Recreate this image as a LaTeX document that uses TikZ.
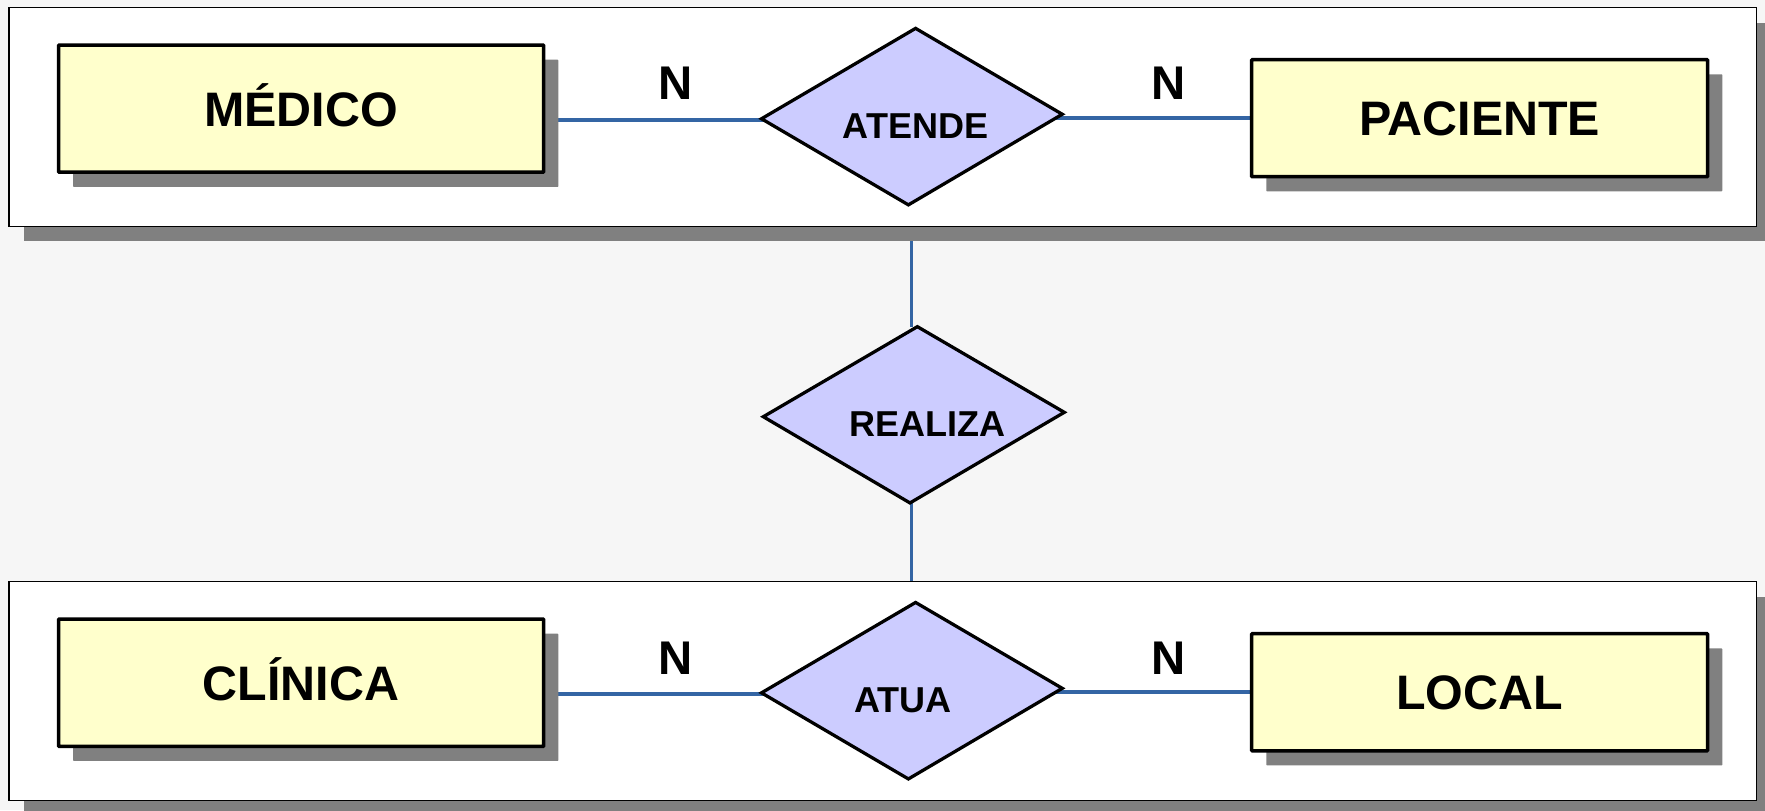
\documentclass[tikz,border=0pt]{standalone}
\usepackage{fontspec}
\setmainfont{Liberation Sans}
\usetikzlibrary{shadows}

\definecolor{canvasgray}{HTML}{F6F6F6}
\definecolor{shadowgray}{HTML}{808080}
\definecolor{entityfill}{HTML}{FFFFCC}
\definecolor{relfill}{HTML}{CCCCFF}
\definecolor{linkblue}{HTML}{3465A4}

\pgfdeclarelayer{canvas}
\pgfdeclarelayer{vlinks}
\pgfdeclarelayer{frames}
\pgfdeclarelayer{hlinks}
\pgfsetlayers{canvas,vlinks,frames,hlinks,main}

\begin{document}
\begin{tikzpicture}[x=1pt,y=-1pt,
  boxshadow/.style={drop shadow={shadow xshift=13pt,shadow yshift=-13pt,
      fill=shadowgray,opacity=1,rounded corners=1.5pt}},
  frame/.style={draw=black,line width=0.9pt,fill=white,inner sep=0pt,
      minimum width=1552pt,minimum height=194pt,boxshadow},
  entity/.style={draw=black,line width=3.1pt,fill=entityfill,inner sep=0pt,
      rounded corners=0.6pt,boxshadow,
      font=\fontsize{43}{50}\selectfont\bfseries,text height=31pt,text depth=0pt},
  rel/.style={draw=black,line width=2.9pt,fill=relfill,line join=miter},
  reltext/.style={inner sep=0pt,font=\fontsize{32}{38}\selectfont\bfseries,
      text height=23pt,text depth=0pt},
  card/.style={inner sep=0pt,font=\fontsize{42}{48}\selectfont\bfseries,
      text height=30pt,text depth=0pt},
  link/.style={draw=linkblue,line width=3pt}]

\begin{pgfonlayer}{canvas}
  \fill[canvasgray] (0,0) rectangle (1568,720);
\end{pgfonlayer}
\useasboundingbox (0,0) rectangle (1568,720);

% two white panels
\begin{pgfonlayer}{frames}
  \node[frame] (topframe) at (784,104) {};
  \node[frame] (botframe) at (784,614) {};
\end{pgfonlayer}

% entities
\node[entity,minimum width=431pt,minimum height=113pt] (medico)   at (267.5,96.5)  {MÉDICO};
\node[entity,minimum width=405pt,minimum height=104pt] (paciente) at (1314.5,105)  {PACIENTE};
\node[entity,minimum width=431pt,minimum height=113pt] (clinica)  at (267.5,606.5) {CLÍNICA};
\node[entity,minimum width=405pt,minimum height=104pt] (local)    at (1314.5,615)  {LOCAL};

% relationship ATENDE
\coordinate (at-n) at (813.4,25.2);
\coordinate (at-e) at (943.7,101.5);
\coordinate (at-s) at (807,182);
\coordinate (at-w) at (676.5,105.5);
\draw[rel] (at-n) -- (at-e) -- (at-s) -- (at-w) -- cycle;
\node[reltext] (atende) at (813.3,111.3) {ATENDE};
\coordinate (at-l) at (680,106.5);
\coordinate (at-r) at (938,104.8);

% relationship REALIZA
\coordinate (re-n) at (815,290.2);
\coordinate (re-e) at (945.5,366.3);
\coordinate (re-s) at (808.4,446.8);
\coordinate (re-w) at (678.1,370.2);
\draw[rel] (re-n) -- (re-e) -- (re-s) -- (re-w) -- cycle;
\node[reltext] (realiza) at (824.3,376.4) {REALIZA};

% relationship ATUA
\coordinate (au-n) at (813.4,535.2);
\coordinate (au-e) at (943.7,611.5);
\coordinate (au-s) at (807,692);
\coordinate (au-w) at (676.5,615.5);
\draw[rel] (au-n) -- (au-e) -- (au-s) -- (au-w) -- cycle;
\node[reltext] (atua) at (802.1,621.9) {ATUA};
\coordinate (au-l) at (680,616.5);
\coordinate (au-r) at (938,614.8);

% cardinalities
\node[card] (n1) at (600,73.3)  {N};
\node[card] (n2) at (1038.5,73.3) {N};
\node[card] (n3) at (600,584.3) {N};
\node[card] (n4) at (1038.5,584.3) {N};

% connectors inside the panels
\begin{pgfonlayer}{hlinks}
  \draw[link] (medico.east |- at-l) -- (at-l);
  \draw[link] (at-r) -- (paciente.west |- at-r);
  \draw[link] (clinica.east |- au-l) -- (au-l);
  \draw[link] (au-r) -- (local.west |- au-r);
\end{pgfonlayer}

% connectors between the panels
\coordinate (vx) at (810,0);
\begin{pgfonlayer}{vlinks}
  \draw[link] (vx |- topframe.south) -- (vx |- re-n);
  \draw[link] (vx |- re-s) -- (vx |- botframe.north);
\end{pgfonlayer}
\end{tikzpicture}
\end{document}
